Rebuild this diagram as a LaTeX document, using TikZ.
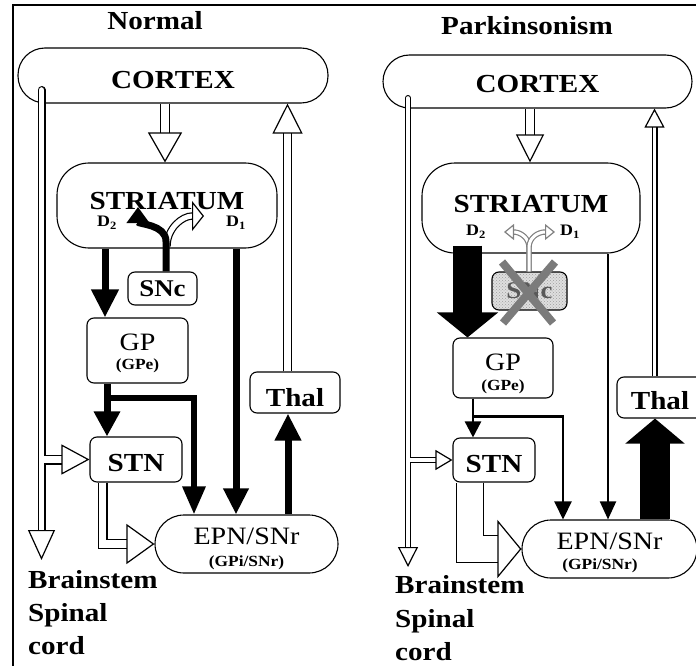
\documentclass[tikz,border=0pt]{standalone}
\usepackage{fontspec}
\setmainfont{Liberation Serif}[FakeStretch=1.12]
\usetikzlibrary{arrows.meta,patterns,calc}
\newcommand{\lbl}{\fontsize{26}{30}\selectfont\bfseries}
\newcommand{\lblm}{\fontsize{25}{30}\selectfont\mdseries}
\newcommand{\lbls}{\fontsize{15.5}{18}\selectfont\bfseries}
\newcommand{\lbld}{\fontsize{16}{18}\selectfont\bfseries}
\tikzset{
  box/.style={draw, line width=1.1pt, rounded corners=7pt, inner sep=0pt, font=\lbl},
  pill/.style={box, rounded corners=#1},
  txt/.style={inner sep=0pt, font=\lbl},
  hol/.style n args={3}{draw, line width=1.2pt, double=white, double distance=#1,
    -{Triangle[fill=white, line width=1.2pt, length=#2, width=#3]}},
  blk/.style n args={3}{draw, line width=#1, -{Triangle[length=#2, width=#3]}},
}
\begin{document}
\begin{tikzpicture}[x=1pt,y=-1pt]
  \useasboundingbox (0,0) rectangle (696,666);
  \clip (0,0) rectangle (696,666);
  \draw[line width=2.5pt] (13,666) -- (13,5) -- (696,5);

  % Normal
  \node[txt, anchor=base] (ntitle) at (155,30) {Normal};
  \node[pill=27pt, minimum width=310pt, minimum height=55pt, text height=27pt] (nctx) at (173,75.5) {CORTEX};
  \node[pill=32pt, minimum width=220pt, minimum height=85pt, text depth=9pt] (nstr) at (167,205.5) {STRIATUM};
  \node[txt, font=\lbld] (nd2) at (107,223) {D\textsubscript{2}};
  \node[txt, font=\lbld] (nd1) at (236,223) {D\textsubscript{1}};
  \node[box, minimum width=69pt, minimum height=33pt, font=\fontsize{24}{28}\selectfont\bfseries] (nsnc) at (162.5,288.5) {SNc};
  \node[box, minimum width=101pt, minimum height=65pt, font=\lblm, text depth=17pt] (ngp) at (137.5,350.5) {GP};
  \node[txt, font=\lbls, anchor=base] (ngpe) at (137.5,369) {(GPe)};
  \node[box, minimum width=92pt, minimum height=45pt, text height=25pt] (nstn) at (136,459.5) {STN};
  \node[pill=29pt, minimum width=183pt, minimum height=58pt, font=\lblm, text depth=16pt] (nepn) at (246.5,544) {EPN/SNr};
  \node[txt, font=\lbls, anchor=base] (ngpi) at (246.5,566) {(GPi/SNr)};
  \node[box, minimum width=90pt, minimum height=41pt, text height=29pt] (nthal) at (295,392.5) {Thal};
  \node[txt, anchor=base west] (nbs) at (28,588) {Brainstem};
  \node[txt, anchor=base west] (nsp) at (28,621) {Spinal};
  \node[txt, anchor=base west] (ncd) at (28,654) {cord};

  \coordinate (nx1) at (165,0);
  \coordinate (nx2) at (287.5,0);
  \coordinate (nx3) at (102.5,0);
  \coordinate (nbr) at (44,0);
  \draw[hol={7.6pt}{30pt}{34pt}] (nx1 |- nctx.south) -- (nx1 |- nstr.north);
  \draw[hol={5.6pt}{30pt}{27pt}, line cap=round] (41.5,90) coordinate (ntop) -- (41.5,560) coordinate (nbot);
  \draw[hol={7.6pt}{28pt}{30pt}] (nbr |- nstn.west) -- (nstn.west);
  \draw[hol={6.6pt}{30pt}{30pt}] (nx2 |- nthal.north) -- (nx2 |- nctx.south);
  \draw[hol={7.6pt}{28pt}{40pt}] (nx3 |- nstn.south) |- (nepn.west);

  \coordinate (nx4) at (105,0);
  \coordinate (nx5) at (236,0);
  \coordinate (nx6) at (107,0);
  \coordinate (nx7) at (194,0);
  \coordinate (nx8) at (288,0);
  \coordinate (nx9) at (166,0);
  \draw[blk={7pt}{28pt}{26pt}] (nx4 |- nstr.south) -- (nx4 |- ngp.north);
  \draw[blk={7pt}{26pt}{24pt}] (nx5 |- nstr.south) -- (nx5 |- nepn.north);
  \draw[blk={7pt}{25pt}{25pt}] (nx6 |- ngp.south) -- (nx6 |- nstn.north);
  \draw[blk={6pt}{28pt}{22pt}] (nx6 |- ngp.south) -- ++(0,14) -| (nx7 |- nepn.north);
  \draw[blk={7pt}{27pt}{25pt}] (nx8 |- nepn.north) -- (nx8 |- nthal.south);
  \draw[hol={5pt}{12pt}{30pt}] (nx9 |- nsnc.north) ++(1,-25) .. controls ++(0,-18) and (182,216) .. (204,216);
  \draw[blk={7pt}{16pt}{22pt}] (nx9 |- nsnc.north) -- ++(0,-30) to[out=90,in=-90] (138,207);

  % Parkinsonism
  \node[txt, anchor=base] (ptitle) at (527,35) {Parkinsonism};
  \node[pill=26.5pt, minimum width=309pt, minimum height=53pt, text height=22pt] (pctx) at (537.5,81.5) {CORTEX};
  \node[pill=33pt, minimum width=218pt, minimum height=90pt, text depth=8pt] (pstr) at (531,208) {STRIATUM};
  \node[txt, font=\lbld] (pd2) at (476,232) {D\textsubscript{2}};
  \node[txt, font=\lbld] (pd1) at (570,232) {D\textsubscript{1}};
  \node[box, minimum width=75pt, minimum height=38pt, text=black!65, font=\fontsize{24}{28}\selectfont\bfseries,
    preaction={fill=gray!25}, pattern=crosshatch dots, pattern color=gray!75] (psnc) at (529.5,291) {SNc};
  \node[box, minimum width=100pt, minimum height=60pt, font=\lblm, text depth=12pt] (pgp) at (503,368) {GP};
  \node[txt, font=\lbls, anchor=base] (pgpe) at (503,390) {(GPe)};
  \node[box, minimum width=82pt, minimum height=44pt, text height=25pt] (pstn) at (494,460) {STN};
  \node[pill=29pt, minimum width=175pt, minimum height=58pt, font=\lblm, text depth=16pt] (pepn) at (609.5,549) {EPN/SNr};
  \node[txt, font=\lbls, anchor=base] (pgpi) at (600,569) {(GPi/SNr)};
  \node[box, minimum width=86pt, minimum height=41pt, text height=24pt] (pthal) at (660,397.5) {Thal};
  \node[txt, anchor=base west] (pbs) at (395,593) {Brainstem};
  \node[txt, anchor=base west] (psp) at (395,627) {Spinal};
  \node[txt, anchor=base west] (pcd) at (395,660) {cord};

  \coordinate (px1) at (530,0);
  \coordinate (px2) at (654.5,0);
  \coordinate (px3) at (470,0);
  \coordinate (pbr) at (410,0);
  \draw[hol={7.6pt}{28pt}{28pt}] (px1 |- pctx.south) -- (px1 |- pstr.north);
  \draw[hol={3.6pt}{20pt}{20pt}, line cap=round] (408,98) coordinate (ptop) -- (408,567) coordinate (pbot);
  \draw[hol={3.6pt}{17pt}{20pt}] (pbr |- pstn.west) -- (pstn.west);
  \draw[hol={3.6pt}{19pt}{20pt}] (px2 |- pthal.north) -- (px2 |- pctx.south);
  \draw[hol={25.6pt}{24pt}{58pt}] (px3 |- pstn.south) |- (pepn.west);

  \coordinate (px4) at (467.5,0);
  \coordinate (px5) at (608,0);
  \coordinate (px6) at (473,0);
  \coordinate (px7) at (563,0);
  \coordinate (px8) at (655,0);
  \coordinate (px9) at (529,0);
  \draw[blk={29pt}{25pt}{60pt}] (px4 |- pstr.south) ++(0,-8) -- (px4 |- pgp.north);
  \draw[blk={2pt}{18pt}{16pt}] (px5 |- pstr.south) -- (px5 |- pepn.north);
  \draw[blk={2.5pt}{16pt}{16pt}] (px6 |- pgp.south) -- (px6 |- pstn.north);
  \draw[blk={2.5pt}{18pt}{17pt}] (px6 |- pgp.south) -- ++(0,18) -| (px7 |- pepn.north);
  \draw[blk={30pt}{25pt}{58pt}] (px8 |- pepn.north) -- (px8 |- pthal.south);
  \draw[hol={3pt}{10pt}{16pt}, draw=gray] (px9 |- psnc.north) -- ++(0,-24) .. controls ++(0,-10) and (520,232) .. (504,232);
  \draw[hol={3pt}{10pt}{16pt}, draw=gray] (px9 |- psnc.north) -- ++(0,-24) .. controls ++(0,-10) and (538,232) .. (555,232);
  \draw[line width=8pt, gray!85!black!90] (502,262) -- (553,323) (555,262) -- (503,323);
\end{tikzpicture}
\end{document}
